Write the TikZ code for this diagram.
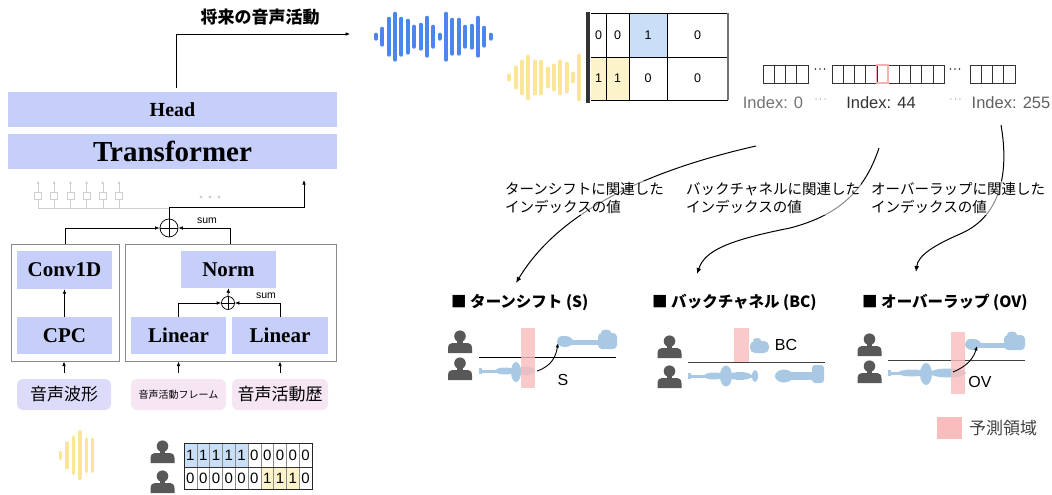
\documentclass[tikz,border=0pt]{standalone}
\usepackage{fontspec}
\setmainfont{Liberation Serif}
\setsansfont{Liberation Sans}
\newfontfamily\jpfont{Noto Sans CJK JP}
\usetikzlibrary{arrows.meta}

\definecolor{blk}{HTML}{C6CEFA}
\definecolor{inlav}{HTML}{DCDCFA}
\definecolor{inpink}{HTML}{F6E6F4}
\definecolor{framecol}{HTML}{8A8A8A}
\definecolor{cellblue}{HTML}{C9DFF7}
\definecolor{cellyel}{HTML}{FDF3CB}
\definecolor{wblue}{HTML}{4A86EE}
\definecolor{wyel}{HTML}{FBE596}
\definecolor{bandcol}{HTML}{F8BDBC}
\definecolor{bandedge}{HTML}{F5B0B0}
\definecolor{speech}{HTML}{A9C8E3}
\definecolor{personcol}{HTML}{585858}
\definecolor{faint}{HTML}{CFCFCF}

\newcommand\setfs[1]{\fontsize{#1}{#1}\selectfont}

\tikzset{
  arr/.style={-{Latex[length=4.5pt,width=3.6pt]}, line width=0.7pt},
  blkbox/.style={fill=blk, inner sep=0pt, font=\bfseries\setfs{21}},
  framebox/.style={draw=framecol, line width=1pt, inner sep=0pt},
  inbox/.style={rounded corners=6pt, inner sep=0pt, minimum height=31pt, font=\jpfont\setfs{17}},
  sumcirc/.style={circle, draw, line width=0.7pt, inner sep=0pt},
  sumlab/.style={font=\sffamily\setfs{10.5}, inner sep=0pt},
  wbar/.style={#1, line cap=round},
  icell/.style={draw=black!80, line width=0.6pt},
  curvearr/.style={-{Latex[length=6pt,width=5pt]}, line width=1pt},
  curvelab/.style={font=\jpfont\setfs{14.5}, align=left, fill=white, fill opacity=0.55, text opacity=1, inner sep=1pt},
  ptitle/.style={font=\jpfont\bfseries\setfs{15.5}, anchor=west, inner sep=0pt},
  turnlab/.style={font=\sffamily\setfs{16}, inner sep=0pt},
  speechfill/.style={fill=speech},
  band/.style={fill=bandcol, fill opacity=0.8},
  person/.pic={
    \fill[personcol] (0,6.2) circle (5.8pt);
    \fill[personcol] (-2.8,10) rectangle (2.8,14);
    \fill[personcol] (-12,23) -- (-12,18.5) .. controls (-12,14) and (-10,13) .. (-5,13)
      -- (5,13) .. controls (10,13) and (12,14) .. (12,18.5) -- (12,23) -- cycle;
  }
}

\begin{document}
\begin{tikzpicture}[x=1pt,y=-1pt]
\useasboundingbox (0,0) rectangle (1052,495);

% ---------------- model column ----------------
\node[blkbox, minimum width=329pt, minimum height=35pt, font=\bfseries\setfs{20}] (head) at (172.5,109.5) {Head};
\node[blkbox, minimum width=329pt, minimum height=35pt, font=\bfseries\setfs{29}] (trans) at (172.5,151.5) {Transformer};

\node[font=\jpfont\bfseries\setfs{17}, inner sep=0pt] (future) at (260,17) {将来の音声活動};
\coordinate (outtip) at (350,34);
\draw[arr] ([shift={(3.5pt,4pt)}]head.north) |- (outtip);

% earlier time steps (faded)
\foreach \i in {0,...,5} {
  \node[draw=faint, line width=0.6pt, minimum size=7pt, inner sep=0pt] (g\i) at ({38+16.2*\i},195.5) {};
  \draw[faint, line width=0.6pt, -{Latex[length=3.5pt,width=3pt]}] (g\i.north) -- ++(0,-11);
  \draw[faint, line width=0.6pt] (g\i.south) -- ++(0,9);
}
\coordinate (fadeend) at (169,208);
\draw[faint, line width=0.6pt] (g0.south |- fadeend) -- (fadeend);
\foreach \x in {201,210,219} \fill[faint] (\x,197) circle (1.7pt);

% top-level sum
\node[sumcirc, minimum size=18pt] (sum1) at (169,228) {};
\draw[line width=0.7pt] (sum1.north) -- (sum1.south) (sum1.west) -- (sum1.east);
\node[sumlab] (sumlab1) at (207,221) {sum};
\coordinate (tin) at (304,180);
\draw[arr] (sum1.north) -- ++(0,-11) -| (tin);

% encoder frames
\node[framebox, minimum width=108pt, minimum height=117pt] (leftframe) at (65,302.5) {};
\node[framebox, minimum width=211pt, minimum height=117pt] (rightframe) at (230.5,302.5) {};
\draw[arr] (leftframe.north) |- (sum1.west);
\draw[arr] (rightframe.north) |- (sum1.east);

\node[blkbox, minimum width=95pt, minimum height=38pt] (conv) at (64.5,270) {Conv1D};
\node[blkbox, minimum width=95pt, minimum height=37pt] (cpc) at (64.5,335.5) {CPC};
\draw[arr] (cpc) -- (conv);

\node[blkbox, minimum width=95pt, minimum height=37pt] (norm) at (228.5,269.5) {Norm};
\node[blkbox, minimum width=95pt, minimum height=37pt] (lin1) at (178.5,335.5) {Linear};
\node[blkbox, minimum width=96pt, minimum height=37pt] (lin2) at (280,335.5) {Linear};
\node[sumcirc, minimum size=13pt] (sum2) at (228,303) {};
\draw[line width=0.7pt] (sum2.north) -- (sum2.south) (sum2.west) -- (sum2.east);
\node[sumlab] (sumlab2) at (266,296) {sum};
\draw[arr] (lin1.north) |- (sum2.west);
\draw[arr] (lin2.north) |- (sum2.east);
\draw[arr] (sum2.north) -- (norm.south);

% inputs
\node[inbox, fill=inlav, minimum width=94pt] (in1) at (64,394.5) {音声波形};
\node[inbox, fill=inpink, minimum width=95pt, font=\jpfont\setfs{10}] (in2) at (178.5,394.5) {音声活動フレーム};
\node[inbox, fill=inpink, minimum width=96pt] (in3) at (280,394.5) {音声活動歴};
\draw[arr] ([yshift=6pt]in1.north) -- (in1.north |- leftframe.south);
\draw[arr] ([yshift=6pt]in2.north) -- (in2.north |- rightframe.south);
\draw[arr] ([yshift=6pt]in3.north) -- (in3.north |- rightframe.south);

% ---------------- input example (bottom left) ----------------
\foreach \h [count=\i from 0] in {5,14,20,25,18,18}
  \draw[wbar=wyel, line width=3.5pt] ({60.7+6.4*\i},{455.3-\h+1.75}) -- ({60.7+6.4*\i},{455.3+\h-1.75});

\pic at (162.5,440) {person};
\pic at (162.5,470) {person};

\fill[cellblue] (184,443) rectangle (248,467);
\fill[cellyel] (260.8,467) rectangle (299.2,489);
\foreach \i in {1,...,9} \draw[black!45, line width=0.6pt] ({184+12.8*\i},443) -- ({184+12.8*\i},489);
\draw[black!80, line width=0.7pt] (184,467) -- (312,467);
\draw[black!85, line width=0.8pt] (184,443) rectangle (312,489);
\foreach \v [count=\i from 0] in {1,1,1,1,1,0,0,0,0,0}
  \node[font=\sffamily\setfs{15}, inner sep=0pt] (ra\i) at ({190.4+12.8*\i},455.5) {\v};
\foreach \v [count=\i from 0] in {0,0,0,0,0,0,1,1,1,0}
  \node[font=\sffamily\setfs{15}, inner sep=0pt] (rb\i) at ({190.4+12.8*\i},478.5) {\v};

% ---------------- future activity (top middle) ----------------
\foreach \h [count=\i from 0] in {4,10,20,25,20,18,12,14,21,12,4,25,19,19,12,13,21,11,4}
  \draw[wbar=wblue, line width=4pt] ({376+6.37*\i},{36.7-\h+2}) -- ({376+6.37*\i},{36.7+\h-2});
\foreach \h [count=\i from 0] in {4,12,18,23,18,18,11,14,18,16,6,24}
  \draw[wbar=wyel, line width=4pt] ({509.3+6.37*\i},{77.5-\h+2}) -- ({509.3+6.37*\i},{77.5+\h-2});

\fill[cellblue] (629,13) rectangle (667,57);
\fill[cellyel] (591,57) rectangle (629,100);
\draw[black, line width=0.7pt] (591,13) -- (728,13) (591,57) -- (728,57) (591,100) -- (728,100);
\draw[black, line width=0.7pt] (606,13) -- (606,100) (629,13) -- (629,100) (667,13) -- (667,100);
\draw[black!55, line width=1.2pt] (728,13) -- (728,100);
\draw[black!80, line width=3.2pt] (588,12) -- (588,103);
\foreach \x/\v [count=\i] in {598.5/0,617.5/0,648/1,697.5/0}
  \node[font=\sffamily\setfs{12.5}, inner sep=0pt] (ma\i) at (\x,35) {\v};
\foreach \x/\v [count=\i] in {598.5/1,617.5/1,648/0,697.5/0}
  \node[font=\sffamily\setfs{12.5}, inner sep=0pt] (mb\i) at (\x,78.5) {\v};

% ---------------- output indices ----------------
\foreach \i in {0,...,3} \draw[icell] ({763+11.25*\i},65) rectangle ({774.25+11.25*\i},83);
\foreach \i in {0,...,9} \draw[icell] ({832+11.2*\i},65) rectangle ({843.2+11.2*\i},83);
\foreach \i in {0,...,3} \draw[icell] ({970+11.25*\i},65) rectangle ({981.25+11.25*\i},83);
\draw[bandedge, line width=1.2pt] (876.8,65) rectangle (888,83);
\foreach \x in {815.5,820,824.5,950.5,955,959.5} \fill[black!85] (\x,69) circle (0.9pt);

\node[font=\sffamily\setfs{16.5}, text=black!55, inner sep=0pt] (idx0) at (773,103) {Index: 0};
\node[font=\sffamily\setfs{16.5}, text=black!80, inner sep=0pt] (idx44) at (881,103) {Index: 44};
\node[font=\sffamily\setfs{16.5}, text=black!62, inner sep=0pt] (idx255) at (1011,103) {Index: 255};
\foreach \x in {816,820.5,825,951,955.5,960} \fill[black!45] (\x,99) circle (0.7pt);

% ---------------- index-to-event curves ----------------
\coordinate (c1s) at (756,146);
\coordinate (c1e) at (516,283);
\coordinate (c2s) at (879,148);
\coordinate (c2e) at (697,274);
\coordinate (c3s) at (1001,125);
\coordinate (c3e) at (916,272);
\draw[curvearr] (c1s) .. controls (650,170) and (560,210) .. (c1e);
\draw[curvearr] (c2s) .. controls (865,190) and (840,215) .. (790,228) .. controls (730,240) and (705,250) .. (c2e);
\draw[curvearr] (c3s) .. controls (1008,165) and (1005,215) .. (960,234) .. controls (935,245) and (918,255) .. (c3e);

\node[curvelab, anchor=west] (lab1) at (504,198) {ターンシフトに関連した\\[4pt]インデックスの値};
\node[curvelab, anchor=west] (lab2) at (685,198) {バックチャネルに関連した\\[4pt]インデックスの値};
\node[curvelab, anchor=west] (lab3) at (870,198) {オーバーラップに関連した\\[4pt]インデックスの値};

% ---------------- event panels ----------------
\node[ptitle] (tsT) at (451,302) {■ ターンシフト (S)};
\node[ptitle] (bcT) at (652,302) {■ バックチャネル (BC)};
\node[ptitle] (ovT) at (862,302) {■ オーバーラップ (OV)};

% turn shift
\pic at (460,330) {person};
\pic at (460,357) {person};
\draw[black, line width=0.8pt] (479,357) -- (616,357);
\fill[speechfill] (479,369.5) rectangle (512,372.5);
\fill[speechfill] (479,368) rectangle (481.5,374);
\fill[speechfill] (505,371) ellipse (10pt and 3.5pt);
\fill[speechfill] (516,372) ellipse (5pt and 10pt);
\fill[speechfill] (526,371) ellipse (9pt and 4.5pt);
\fill[speechfill] (565,341.5) ellipse (8pt and 5.5pt);
\fill[speechfill] (562,339) ellipse (4pt and 3pt);
\fill[speechfill] (565,339.5) rectangle (600,344.5);
\fill[speechfill, rounded corners=4pt] (598,333) rectangle (617,349);
\fill[speechfill] (606,332.5) ellipse (5pt and 3pt);
\fill[band] (521,328) rectangle (535,388);
\coordinate (tsA) at (537,371);
\coordinate (tsB) at (558,343);
\draw[arr, line width=0.9pt] (tsA) .. controls (552,366) and (556,356) .. (tsB);
\node[turnlab] (tsL) at (563,380) {S};

% backchannel
\pic at (669.5,335) {person};
\pic at (669.5,365) {person};
\draw[black!75, line width=0.8pt] (688,362) -- (825,362);
\fill[speechfill] (688,374.5) rectangle (757,377.5);
\fill[speechfill] (688,373) rectangle (690.5,379);
\fill[speechfill] (714,376) ellipse (10pt and 3.5pt);
\fill[speechfill] (726,376) ellipse (6pt and 10.5pt);
\fill[speechfill] (740,376) ellipse (12pt and 4pt);
\fill[speechfill] (755,376) ellipse (3pt and 6pt);
\fill[speechfill] (784,376) ellipse (9pt and 6.5pt);
\fill[speechfill] (784,372) rectangle (815,380);
\fill[speechfill, rounded corners=3pt] (812,365) rectangle (824,383);
\fill[speechfill, rounded corners=5pt] (750,341) rectangle (769,353);
\fill[speechfill] (757,340.5) ellipse (4pt and 2.5pt);
\fill[band] (734,328) rectangle (749,362);
\node[turnlab] (bcL) at (786,345) {BC};

% overlap
\pic at (869.5,333) {person};
\pic at (869.5,360) {person};
\draw[black!75, line width=0.8pt] (888,360) -- (1025,360);
\fill[speechfill] (888,371.5) rectangle (926,374.5);
\fill[speechfill] (888,370) rectangle (890.5,376);
\fill[speechfill] (912,373) ellipse (14pt and 3.5pt);
\fill[speechfill] (926,374) ellipse (6pt and 11pt);
\fill[speechfill] (948,373) ellipse (18pt and 4.5pt);
\fill[speechfill] (973,344.5) ellipse (8pt and 5.5pt);
\fill[speechfill] (970,342) ellipse (4pt and 3pt);
\fill[speechfill] (973,342.5) rectangle (1008,347.5);
\fill[speechfill, rounded corners=4pt] (1004,335) rectangle (1025,350);
\fill[speechfill] (1012,334.5) ellipse (5pt and 3pt);
\fill[band] (951,332) rectangle (965,394);
\coordinate (ovA) at (953,372);
\coordinate (ovB) at (977,346);
\draw[arr, line width=0.9pt] (ovA) .. controls (968,366) and (974,357) .. (ovB);
\node[turnlab] (ovL) at (980,382) {OV};

% legend
\node[fill=bandcol, minimum width=25pt, minimum height=22pt, inner sep=0pt] (legbox) at (949.5,428) {};
\node[font=\jpfont\setfs{17}, text=black!75, anchor=west, inner sep=0pt] (legtext) at (969,428) {予測領域};

\end{tikzpicture}
\end{document}
